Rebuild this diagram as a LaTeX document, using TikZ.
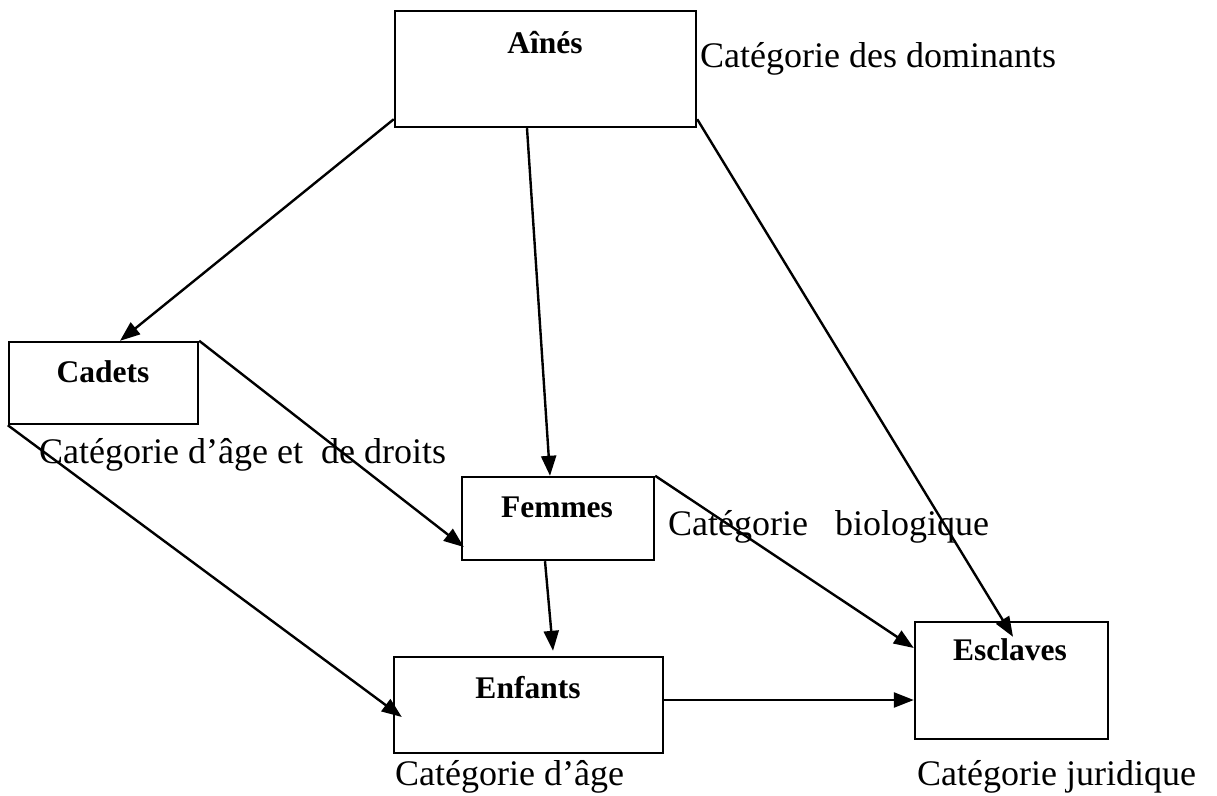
\documentclass[tikz,border=0pt]{standalone}
\usepackage{fontspec}
\setmainfont{Liberation Serif}
\usetikzlibrary{arrows.meta}
\tikzset{
  box/.style={draw, line width=2.4pt, inner sep=0pt, rectangle},
  lbl/.style={font=\fontsize{31.5}{36}\selectfont\bfseries, inner sep=0pt},
  cat/.style={font=\fontsize{36}{40}\selectfont, inner sep=0pt, anchor=base west},
  conn/.style={line width=2.4pt, -{Triangle[length=20pt,width=15pt]}}
}
\begin{document}
\begin{tikzpicture}[x=1pt,y=-1pt]
\useasboundingbox (0,0) rectangle (1217,795);
% boxes
\node[box, minimum width=301pt, minimum height=116pt] (ain) at (545.5,69) {};
\node[box, minimum width=189pt, minimum height=82pt] (cad) at (103.5,383) {};
\node[box, minimum width=192pt, minimum height=83pt] (fem) at (558,518.5) {};
\node[box, minimum width=269pt, minimum height=96pt] (enf) at (528.5,705) {};
\node[box, minimum width=193pt, minimum height=117pt] (esc) at (1011.5,680.5) {};
% box labels
\node[lbl] (tain) at (545,43) {Aînés};
\node[lbl] (tcad) at (103,372) {Cadets};
\node[lbl] (tfem) at (557,507) {Femmes};
\node[lbl] (tenf) at (528,688) {Enfants};
\node[lbl] (tesc) at (1010,650) {Esclaves};
% category labels
\node[cat] (c1) at (700,67) {Catégorie des dominants};
\node[cat] (c2) at (39,463) {Catégorie d’âge et\ \ de droits};
\node[cat] (c3) at (668,535) {Catégorie\ \ \ biologique};
\node[cat] (c4) at (395,785) {Catégorie d’âge};
\node[cat] (c5) at (917,785) {Catégorie juridique};
% connectors
\draw[conn] ([yshift=9pt]ain.south west) -- ([xshift=16.5pt]cad.north);
\draw[conn] ([xshift=-18.5pt]ain.south) -- ([xshift=-8pt]fem.north);
\draw[conn] ([yshift=9pt]ain.south east) -- ([xshift=1.5pt,yshift=-16pt]esc.north);
\draw[conn] (cad.north east) -- ([xshift=3pt,yshift=-28.5pt]fem.west);
\draw[conn] (cad.south west) -- ([xshift=9pt,yshift=-12pt]enf.west);
\draw[conn] (fem.north east) -- ([yshift=32.5pt]esc.west);
\draw[conn] ([xshift=-13pt]fem.south) -- ([xshift=24.5pt,yshift=5pt]enf.north);
\draw[conn] ([yshift=5pt]enf.east) -- ([yshift=-19.5pt]esc.west);
\end{tikzpicture}
\end{document}
